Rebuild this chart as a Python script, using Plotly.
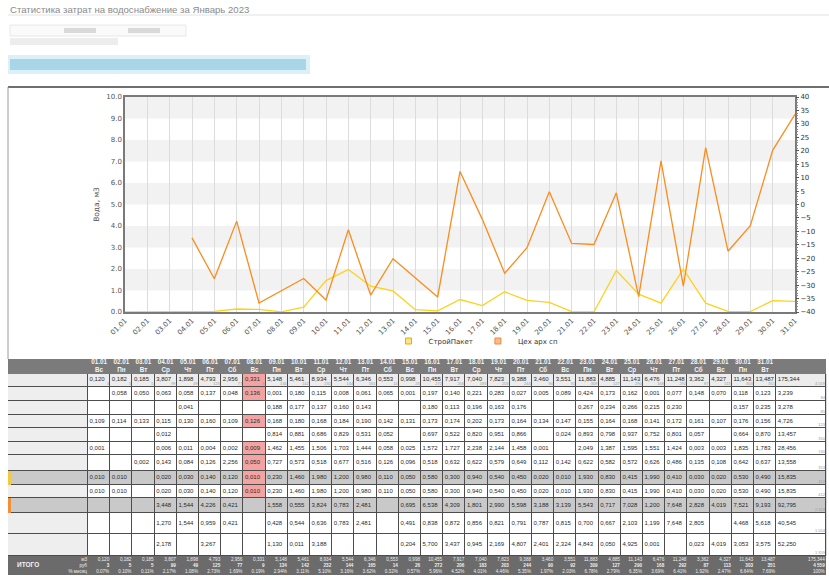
import numpy as np
import plotly.graph_objects as go

N = None

# ---------------- data ----------------
title_text = "Статистика затрат на водоснабжение за Январь 2023"
dates = ["01.01", "02.01", "03.01", "04.01", "05.01", "06.01", "07.01", "08.01", "09.01", "10.01",
         "11.01", "12.01", "13.01", "14.01", "15.01", "16.01", "17.01", "18.01", "19.01", "20.01",
         "21.01", "22.01", "23.01", "24.01", "25.01", "26.01", "27.01", "28.01", "29.01", "30.01", "31.01"]
weekdays = ["Вс", "Пн", "Вт", "Ср", "Чт", "Пт", "Сб", "Вс", "Пн", "Вт", "Ср", "Чт", "Пт", "Сб", "Вс",
            "Пн", "Вт", "Ср", "Чт", "Пт", "Сб", "Вс", "Пн", "Вт", "Ср", "Чт", "Пт", "Сб", "Вс", "Пн", "Вт"]
series_names = ["СтройПакет", "Цех арх сп"]
y_title = "Вода, м3"

row_01 = [0.120, 0.182, 0.185, 3.807, 1.898, 4.793, 2.956, 0.331, 5.148, 5.461, 8.934, 5.544, 6.346, 0.553, 0.998,
          10.455, 7.917, 7.040, 7.823, 9.388, 3.460, 3.551, 11.883, 4.885, 11.143, 6.476, 11.248, 3.362, 4.327, 11.643, 13.487]
row_02 = [N, 0.058, 0.050, 0.063, 0.058, 0.137, 0.048, 0.136, 0.001, 0.180, 0.115, 0.008, 0.061, 0.065, 0.001,
          0.197, 0.140, 0.221, 0.283, 0.027, 0.005, 0.089, 0.424, 0.173, 0.162, 0.001, 0.077, 0.148, 0.070, 0.118, 0.123]
row_03 = [N, N, N, N, 0.041, N, N, N, 0.188, 0.177, 0.137, 0.160, 0.143, N, N,
          0.180, 0.113, 0.196, 0.163, 0.176, N, N, 0.267, 0.234, 0.266, 0.215, 0.230, N, N, 0.157, 0.235]
row_04 = [0.109, 0.114, 0.133, 0.115, 0.130, 0.160, 0.109, 0.126, 0.168, 0.180, 0.168, 0.184, 0.190, 0.142, 0.131,
          0.173, 0.174, 0.202, 0.173, 0.164, 0.134, 0.147, 0.155, 0.164, 0.168, 0.141, 0.172, 0.161, 0.107, 0.176, 0.156]
row_05 = [N, N, N, 0.012, N, N, N, N, 0.814, 0.881, 0.686, 0.829, 0.531, 0.052, N,
          0.697, 0.522, 0.820, 0.951, 0.866, N, 0.024, 0.893, 0.798, 0.937, 0.752, 0.801, 0.057, N, 0.664, 0.870]
row_06 = [0.001, N, N, 0.006, 0.011, 0.004, 0.002, 0.009, 1.462, 1.455, 1.506, 1.703, 1.444, 0.058, 0.025,
          1.572, 1.727, 2.238, 2.144, 1.458, 0.001, N, 2.049, 1.387, 1.595, 1.551, 1.424, 0.003, 0.003, 1.835, 1.783]
row_07 = [N, N, 0.002, 0.143, 0.084, 0.126, 2.256, 0.050, 0.727, 0.573, 0.518, 0.677, 0.516, 0.126, 0.096,
          0.518, 0.632, 0.622, 0.579, 0.649, 0.112, 0.142, 0.622, 0.582, 0.572, 0.626, 0.486, 0.135, 0.108, 0.642, 0.637]
stroy = [0.010, 0.010, N, 0.020, 0.030, 0.140, 0.120, 0.010, 0.230, 1.460, 1.980, 1.200, 0.980, 0.110, 0.050,
         0.580, 0.300, 0.940, 0.540, 0.450, 0.020, 0.010, 1.930, 0.830, 0.415, 1.990, 0.410, 0.030, 0.020, 0.530, 0.490]
row_09 = [0.010, 0.010, N, 0.020, 0.030, 0.140, 0.120, 0.010, 0.230, 1.460, 1.980, 1.200, 0.980, 0.110, 0.050,
          0.580, 0.300, 0.940, 0.540, 0.450, 0.020, 0.010, 1.930, 0.830, 0.415, 1.990, 0.410, 0.030, 0.020, 0.530, 0.490]
tseh = [N, N, N, 3.448, 1.544, 4.226, 0.421, N, 1.558, 0.555, 3.824, 0.783, 2.481, N, 0.695,
        6.538, 4.309, 1.801, 2.990, 5.598, 3.188, 3.139, 5.543, 0.717, 7.028, 1.200, 7.648, 2.828, 4.019, 7.521, 9.193]
row_11 = [N, N, N, 1.270, 1.544, 0.959, 0.421, N, 0.428, 0.544, 0.636, 0.783, 2.481, N, 0.491,
          0.838, 0.872, 0.856, 0.821, 0.791, 0.787, 0.815, 0.700, 0.667, 2.103, 1.199, 7.648, 2.805, N, 4.468, 5.618]
row_12 = [N, N, N, 2.178, N, 3.267, N, N, 1.130, 0.011, 3.188, N, N, N, 0.204,
          5.700, 3.437, 0.945, 2.169, 4.807, 2.401, 2.324, 4.843, 0.050, 4.925, 0.001, N, 0.023, 4.019, 3.053, 3.575]
row_totals = [175.344, 3.239, 3.278, 4.726, 13.457, 28.456, 13.558, 15.835, 15.835, 92.795, 40.545, 52.250]
row_total_rub = [4559, 84, 85, 123, 350, 740, 353, 412, 412, 2413, 1054, 1359]

itogo_rub = [3, 5, 5, 99, 49, 125, 77, 9, 134, 142, 232, 144, 165, 14, 26,
             272, 206, 183, 203, 244, 90, 92, 309, 127, 290, 168, 292, 87, 113, 303, 351]
itogo_pct = [0.07, 0.10, 0.11, 2.17, 1.08, 2.73, 1.69, 0.19, 2.94, 3.11, 5.10, 3.16, 3.62, 0.32, 0.57,
             5.96, 4.52, 4.01, 4.46, 5.35, 1.97, 2.03, 6.78, 2.79, 6.35, 3.69, 6.41, 1.92, 2.47, 6.64, 7.69]
itogo_label = "ИТОГО"
itogo_units = ["м3", "руб", "% месяц"]
highlight_day = "08.01"

body_rows = [row_01, row_02, row_03, row_04, row_05, row_06, row_07, stroy, row_09, tseh, row_11, row_12]
row_kind = ["light", "white", "white", "white", "white", "white", "white", "gray", "white", "gray", "white", "white"]

# ---------------- styles ----------------
W, H = 829, 579
def px(x): return x / W
def py(y): return 1 - y / H

col_widths_px = [80] + [22.2] * 31 + [50]
row_heights_px = [15, 13, 14, 14, 13, 14, 13, 16, 14, 13, 15, 21, 22, 19]
x_edges = np.concatenate([[0], np.cumsum(col_widths_px)])
y_edges = np.concatenate([[0], np.cumsum(row_heights_px)])
TW, TH = float(x_edges[-1]), float(y_edges[-1])
TBL_X0, TBL_Y0 = 8, 359

palette = ["#ffffff", "#ececec", "#c9c9c9", "#f4a3a3", "#eeeeee", "#7b7b7b", "#6b6b6b"]
code = {"white": 0, "light": 1, "gray": 2, "red": 3, "label": 4, "header": 5, "total": 6}
cs = []
for i, c in enumerate(palette):
    cs += [[i / len(palette), c], [(i + 1) / len(palette), c]]

def fmt(v):
    return f"{v:.3f}".replace(".", ",")

def fmt_int(v):
    return f"{v:,}".replace(",", " ")

YELLOW = "#ffd11a"
ORANGE = "#fb8c1e"
FONT = "DejaVu Sans"
TFONT = "Liberation Sans"

fig = go.Figure()

# ---------------- chart ----------------
fig.add_trace(go.Scatter(x=dates, y=stroy, mode="lines", connectgaps=True, line=dict(color=YELLOW, width=1.3),
                         showlegend=False, hoverinfo="skip", xaxis="x", yaxis="y"))
fig.add_trace(go.Scatter(x=dates, y=tseh, mode="lines", connectgaps=True, line=dict(color=ORANGE, width=1.3),
                         showlegend=False, hoverinfo="skip", xaxis="x", yaxis="y"))
fig.add_trace(go.Scatter(x=[N], y=[N], mode="markers", name=series_names[0], xaxis="x", yaxis="y",
                         marker=dict(symbol="square", size=6, color="#ffe38a", line=dict(color="#e3b100", width=1))))
fig.add_trace(go.Scatter(x=[N], y=[N], mode="markers", name=series_names[1], xaxis="x", yaxis="y",
                         marker=dict(symbol="square", size=6, color="#ffb98a", line=dict(color="#ef8a3c", width=1))))
fig.add_trace(go.Scatter(x=[dates[0]], y=[N], mode="markers", showlegend=False, hoverinfo="skip",
                         xaxis="x", yaxis="y2"))

# ---------------- table ----------------
fig.add_trace(go.Heatmap(x=[0, TW], y=[y_edges[0], y_edges[1], y_edges[-2], y_edges[-1]],
                         z=[[code["header"]], [N], [code["total"]]], colorscale=cs, zmin=-0.5,
                         zmax=len(palette) - 0.5, showscale=False, hoverinfo="skip", xaxis="x3", yaxis="y3"))
zb = []
for r, (vals, kind) in enumerate(zip(body_rows, row_kind)):
    row = [code["gray"] if kind == "gray" else (code["light"] if kind == "light" else code["label"])]
    for c, v in enumerate(vals):
        if dates[c] == highlight_day and v is not None:
            row.append(code["red"])
        else:
            row.append(code[kind])
    row.append(code[kind])
    zb.append(row)
fig.add_trace(go.Heatmap(x=x_edges, y=y_edges[1:-1], z=zb, colorscale=cs, zmin=-0.5, zmax=len(palette) - 0.5,
                         xgap=1, ygap=1, showscale=False, hoverinfo="skip", xaxis="x3", yaxis="y3"))

hx = [(x_edges[c + 1] + x_edges[c + 2]) / 2 for c in range(31)]
fig.add_trace(go.Scatter(x=hx, y=[(y_edges[0] + y_edges[1]) / 2] * 31, mode="text",
                         text=[f"{d}<br>{w}" for d, w in zip(dates, weekdays)], textposition="middle center",
                         textfont=dict(family=TFONT, size=6.3, color="#f4f4f4", weight="bold"),
                         showlegend=False, hoverinfo="skip", cliponaxis=False, xaxis="x3", yaxis="y3"))

bx, by, bt = [], [], []
for r, vals in enumerate(body_rows):
    yc = (y_edges[r + 1] + y_edges[r + 2]) / 2
    for c, v in enumerate(vals + [row_totals[r]]):
        if v is None:
            continue
        bx.append(x_edges[c + 1] + 1.6)
        by.append(yc - (1.5 if r == 0 else 0.5))
        bt.append(fmt(v))
fig.add_trace(go.Scatter(x=bx, y=by, mode="text", text=bt, textposition="middle right",
                         textfont=dict(family=TFONT, size=6, color="#2a2a2a"),
                         showlegend=False, hoverinfo="skip", cliponaxis=False, xaxis="x3", yaxis="y3"))

sx, sy, st = [], [], []
for c, v in enumerate(itogo_rub):
    sx.append(x_edges[c + 2] - 1.2)
    sy.append(y_edges[2] - 0.8)
    st.append(fmt_int(v))
for r, v in enumerate(row_total_rub):
    sx.append(x_edges[-1] - 1.2)
    sy.append(y_edges[r + 2] - 0.8)
    st.append(fmt_int(v))
fig.add_trace(go.Scatter(x=sx, y=sy, mode="text", text=st, textposition="top left",
                         textfont=dict(family=TFONT, size=4, color="#9a9a9a"),
                         showlegend=False, hoverinfo="skip", cliponaxis=False, xaxis="x3", yaxis="y3"))

ty = (y_edges[-2] + y_edges[-1]) / 2
fig.add_trace(go.Scatter(x=[9], y=[ty], mode="text", text=[itogo_label], textposition="middle right",
                         textfont=dict(family=TFONT, size=6.5, color="#f4f4f4", weight="bold"),
                         showlegend=False, hoverinfo="skip", cliponaxis=False, xaxis="x3", yaxis="y3"))
tot_x = [x_edges[1] - 1] + [x_edges[c + 2] - 1 for c in range(31)] + [x_edges[-1] - 1.5]
tot_t = ["<br>".join(itogo_units)]
for c in range(31):
    tot_t.append(f"{fmt(row_01[c])}<br><b>{fmt_int(itogo_rub[c])}</b><br>{itogo_pct[c]:.2f}%")
tot_t.append(f"{fmt(row_totals[0])}<br><b>{fmt_int(row_total_rub[0])}</b><br>100%")
fig.add_trace(go.Scatter(x=tot_x, y=[ty + 0.5] * len(tot_x), mode="text", text=tot_t, textposition="middle left",
                         textfont=dict(family=TFONT, size=4.6, color="#efefef"),
                         showlegend=False, hoverinfo="skip", cliponaxis=False, xaxis="x3", yaxis="y3"))

# ---------------- decorations ----------------
shapes = []
for lo in [1, 3, 5, 7, 9]:
    shapes.append(dict(type="rect", xref="x domain", yref="y", x0=0, x1=1, y0=lo, y1=lo + 1,
                       fillcolor="#f2f2f2", line=dict(width=0), layer="below"))
shapes.append(dict(type="rect", xref="x3 domain", yref="y3", x0=0, x1=1, y0=y_edges[1], y1=y_edges[-2],
                   fillcolor="#4d4d4d", line=dict(width=0), layer="below"))
shapes.append(dict(type="rect", xref="x3", yref="y3", x0=0, x1=3, y0=y_edges[8], y1=y_edges[9],
                   fillcolor="#f3c843", line=dict(width=0)))
shapes.append(dict(type="rect", xref="x3", yref="y3", x0=0, x1=3, y0=y_edges[10], y1=y_edges[11],
                   fillcolor="#f0913a", line=dict(width=0)))
shapes += [
    dict(type="line", xref="paper", yref="paper", x0=px(8), x1=1, y0=py(15), y1=py(15), line=dict(color="#e2e2e2", width=1)),
    dict(type="rect", xref="paper", yref="paper", x0=px(10), x1=px(186), y0=py(25), y1=py(36),
         fillcolor="#fafafa", line=dict(color="#e8e8e8", width=1)),
    dict(type="rect", xref="paper", yref="paper", x0=px(64), x1=px(96), y0=py(28), y1=py(33),
         fillcolor="#d9d9d9", line=dict(width=0)),
    dict(type="rect", xref="paper", yref="paper", x0=px(128), x1=px(160), y0=py(28), y1=py(33),
         fillcolor="#d9d9d9", line=dict(width=0)),
    dict(type="rect", xref="paper", yref="paper", x0=px(10), x1=px(118), y0=py(38), y1=py(45),
         fillcolor="#ededed", line=dict(width=0)),
    dict(type="rect", xref="paper", yref="paper", x0=px(8), x1=px(310), y0=py(55), y1=py(74),
         fillcolor="#dcf0f7", line=dict(width=0)),
    dict(type="rect", xref="paper", yref="paper", x0=px(10), x1=px(306), y0=py(59), y1=py(70),
         fillcolor="#a8d6e8", line=dict(width=0)),
    dict(type="line", xref="paper", yref="paper", x0=px(8), x1=1, y0=py(87), y1=py(87), line=dict(color="#6f6f6f", width=2)),
    dict(type="line", xref="paper", yref="paper", x0=px(8), x1=px(8), y0=py(87), y1=py(359), line=dict(color="#9a9a9a", width=1)),
]

fig.update_layout(
    template="none",
    width=W, height=H, autosize=False, margin=dict(l=0, r=0, t=0, b=0, pad=0, autoexpand=False),
    paper_bgcolor="white", plot_bgcolor="white",
    font=dict(family=FONT, size=7, color="#555"),
    shapes=shapes,
    annotations=[dict(text=title_text, xref="paper", yref="paper", x=px(8), y=py(9), xanchor="left",
                      yanchor="middle", showarrow=False, font=dict(family=TFONT, size=9.6, color="#8a8a8a"))],
    showlegend=True,
    legend=dict(orientation="h", x=px(476), xanchor="center", y=py(341), yanchor="middle",
                font=dict(family=FONT, size=7, color="#333"), itemwidth=30, bgcolor="rgba(0,0,0,0)"),
    xaxis=dict(domain=[px(125), px(795)], anchor="y", type="category", categoryorder="array", categoryarray=dates,
               range=[0, 30], showgrid=True, gridcolor="#dcdcdc", gridwidth=1, tickangle=-45,
               tickfont=dict(size=7, color="#555"), ticks="", showline=True, linecolor="#7a7a7a",
               linewidth=1.5, mirror=True, zeroline=False, fixedrange=True, automargin=False),
    yaxis=dict(domain=[py(312), py(97)], anchor="x", range=[0, 10], tick0=0, dtick=1, tickformat=".1f",
               tickfont=dict(size=7, color="#555"), showgrid=False, zeroline=False, ticks="",
               title=dict(text=y_title, font=dict(size=7.5, color="#555"), standoff=6),
               showline=True, linecolor="#7a7a7a", linewidth=1.5, mirror=True, fixedrange=True, automargin=False),
    yaxis2=dict(overlaying="y", side="right", anchor="x", range=[-40, 40], tick0=-40, dtick=5,
                tickfont=dict(size=7, color="#333"), ticks="outside", ticklen=3, tickcolor="#555",
                minor=dict(ticks="outside", ticklen=2, dtick=1, tickcolor="#888"),
                showgrid=False, zeroline=False, showline=False, fixedrange=True, automargin=False),
    xaxis3=dict(domain=[px(TBL_X0), px(TBL_X0 + TW)], anchor="y3", range=[0, TW], visible=False,
                fixedrange=True, automargin=False),
    yaxis3=dict(domain=[py(TBL_Y0 + TH), py(TBL_Y0)], anchor="x3", range=[TH, 0], visible=False,
                fixedrange=True, automargin=False),
)

fig.write_html("out.html")
